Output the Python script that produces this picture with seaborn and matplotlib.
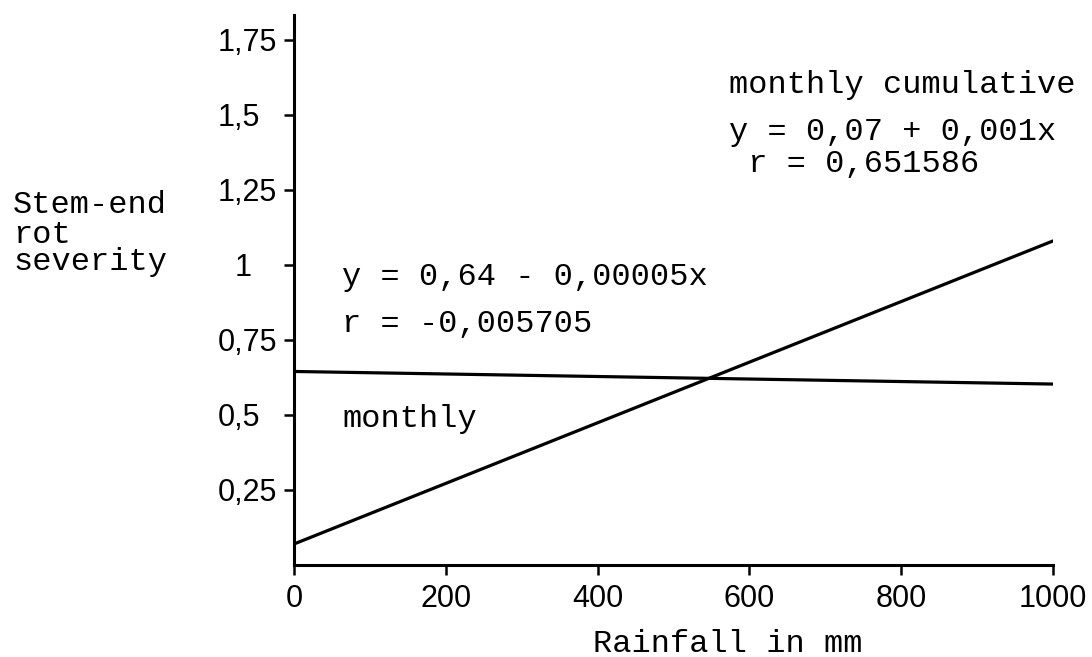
import matplotlib
matplotlib.use("Agg")
import matplotlib.pyplot as plt
import seaborn as sns
import pandas as pd

# Data
rainfall = [0, 1000]
cumulative_severity = [0.07, 1.08]
monthly_severity = [0.645, 0.603]

x_ticks = [0, 200, 400, 600, 800, 1000]
x_tick_labels = ["0", "200", "400", "600", "800", "1000"]
y_ticks = [0.25, 0.5, 0.75, 1.0, 1.25, 1.5, 1.75]
y_tick_labels = ["0,25", "0,5", "0,75", "  1", "1,25", "1,5", "1,75"]

sns.set_theme(style="white")
plt.rcParams["font.family"] = ["Liberation Sans", "DejaVu Sans"]

W, H = 1092, 657
fig = plt.figure(figsize=(W / 100, H / 100), dpi=100)
ax = fig.add_axes([294 / W, (H - 565) / H, (1053 - 294) / W, (565 - 15) / H])

df = pd.DataFrame({"rain": rainfall, "cum": cumulative_severity, "mon": monthly_severity})
sns.lineplot(data=df, x="rain", y="cum", color="black", linewidth=2.3, ax=ax)
sns.lineplot(data=df, x="rain", y="mon", color="black", linewidth=2.3, ax=ax)

ax.set_xlim(0, 1000)
ax.set_ylim(0, 1.833)
ax.set_xlabel("")
ax.set_ylabel("")
for s in ["top", "right"]:
    ax.spines[s].set_visible(False)
for s in ["left", "bottom"]:
    ax.spines[s].set_color("black")
    ax.spines[s].set_linewidth(2.2)

TICK_FS = 22
ax.tick_params(axis="both", which="major", direction="out", length=7, width=1.8,
               color="black", labelsize=TICK_FS, labelcolor="black",
               bottom=True, left=True, top=False, right=False)
ax.tick_params(axis="x", pad=7)
ax.tick_params(axis="y", pad=48)
ax.set_xticks(x_ticks)
ax.set_xticklabels(x_tick_labels, fontsize=TICK_FS)
ax.set_yticks(y_ticks)
ax.set_yticklabels(y_tick_labels, fontsize=TICK_FS, ha="left")

mono = {"family": ["Liberation Mono", "DejaVu Sans Mono"], "size": 23, "color": "black"}

def ftext(px, py, s, **kw):
    fig.text(px / W, 1 - py / H, s, va="baseline", ha="left", **mono, **kw)

ftext(729, 93, "monthly cumulative")
ftext(729, 140, "y = 0,07 + 0,001x")
ftext(729, 172, " r = 0,651586")
ftext(342, 285, "y = 0,64 - 0,00005x")
ftext(342, 332, "r = -0,005705")
ftext(342, 427, "monthly")
ftext(13, 213, "Stem-end")
ftext(13, 243, "rot")
ftext(13, 270, "severity")
ftext(593, 652, "Rainfall in mm")

fig.savefig("out.png", dpi=100, facecolor="white")
